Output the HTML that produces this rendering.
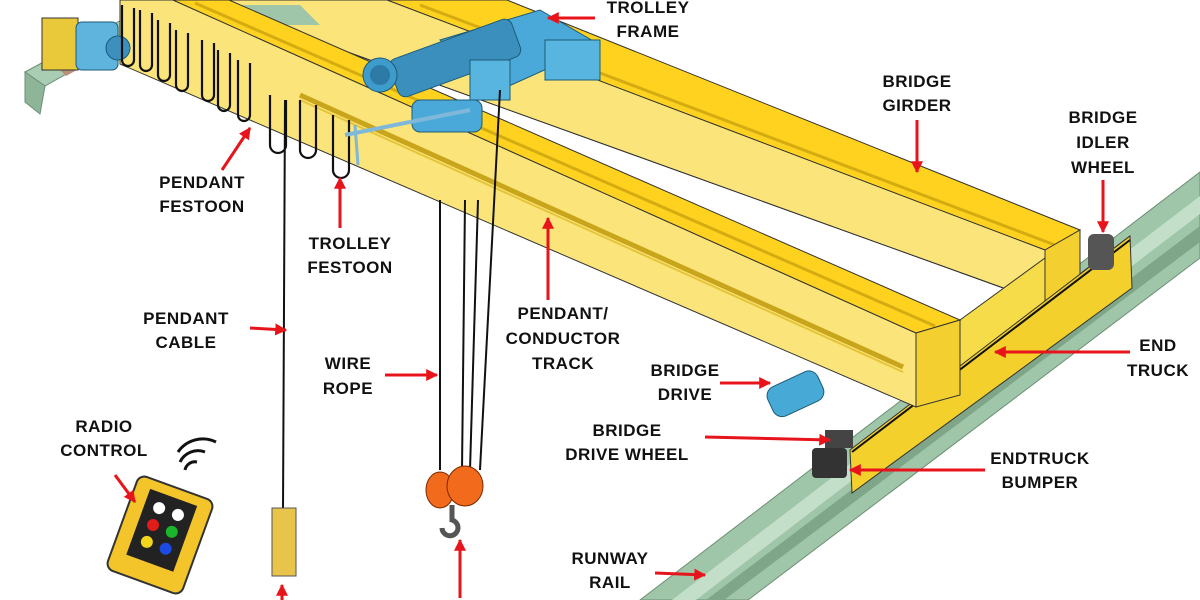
<!DOCTYPE html>
<html><head><meta charset="utf-8"><style>
body{margin:0;width:1200px;height:600px;overflow:hidden;background:#fff}
svg{display:block}
text{font-family:"Liberation Sans",Arial,sans-serif;font-weight:bold;font-size:17px;fill:#111;letter-spacing:0.5px;text-anchor:middle}
</style></head><body>
<svg width="1200" height="600" viewBox="0 0 1200 600" xmlns="http://www.w3.org/2000/svg">
<defs>
<marker id="a" viewBox="0 0 10 10" refX="9" refY="5" markerWidth="4" markerHeight="4" orient="auto"><path d="M0,0L10,5L0,10z" fill="#e8141b"/></marker>
</defs>
<!-- runway rail -->
<polygon points="640,600 1200,172 1200,258 748,600" fill="#9fc6a8" stroke="#6d8f74"/>
<polygon points="672,600 1200,196 1200,214 696,600" fill="#c4dfc9"/>
<polygon points="706,600 1200,226 1200,242 724,600" fill="#7fa688"/>
<!-- left rail -->
<polygon points="25,72 125,18 148,28 45,86" fill="#a9cdb2" stroke="#6d8f74"/>
<polygon points="25,72 45,86 40,114 25,102" fill="#8fb598" stroke="#6d8f74"/>
<polygon points="60,70 130,32 138,36 66,76" fill="#b98f7a"/>
<!-- back girder -->
<polygon points="387,0 507,0 1080,230 1045,250" fill="#ffd21f" stroke="#333"/>
<line x1="420" y1="5" x2="1055" y2="245" stroke="#d4ab10" stroke-width="3"/>
<polygon points="203,0 387,0 1045,250 1045,303" fill="#fbe57a" stroke="#333"/>
<polygon points="1045,250 1080,230 1080,285 1045,303" fill="#f3d030" stroke="#333"/>
<polygon points="205,1 229,1 960,320 960,273" fill="#fff"/>
<line x1="203" y1="0" x2="1045" y2="303" stroke="#333"/>
<polygon points="225,5 300,5 320,25 245,25" fill="#9fc6a8"/>
<!-- end truck -->
<polygon points="960,320 1045,258 1045,303 1085,270 1130,236 860,453 916,407 960,395" fill="#f7dc4a" stroke="#333"/>
<polygon points="850,450 1130,236 1132,288 852,493" fill="#f4d02c" stroke="#333"/>
<line x1="852" y1="452" x2="1130" y2="240" stroke="#111" stroke-width="2"/>
<rect x="1088" y="234" width="26" height="36" fill="#555" rx="6"/>
<!-- front girder -->
<polygon points="120,0 173,0 916,333 916,407 120,64" fill="#fbe57a" stroke="#333"/>
<polygon points="173,0 229,0 960,320 916,333" fill="#ffd21f" stroke="#333"/>
<line x1="195" y1="3" x2="935" y2="326" stroke="#d4ab10" stroke-width="3"/>
<polygon points="916,333 960,320 960,395 916,407" fill="#f3d030" stroke="#333"/>
<line x1="300" y1="95" x2="903" y2="367" stroke="#c9a51c" stroke-width="5"/>
<line x1="300" y1="100" x2="903" y2="372" stroke="#e6c43a" stroke-width="2"/>
<rect x="812" y="448" width="35" height="30" fill="#333" rx="4"/>
<rect x="825" y="430" width="28" height="18" fill="#444"/>
<!-- bridge drive -->
<rect x="768" y="378" width="55" height="32" rx="10" fill="#47a9d6" stroke="#1d5a77" transform="rotate(-25 795 394)"/>
<!-- left end truck -->
<rect x="42" y="18" width="36" height="52" fill="#e9c93a" stroke="#333"/>
<rect x="76" y="22" width="42" height="48" rx="6" fill="#5fb4de" stroke="#1d5a77"/>
<circle cx="118" cy="48" r="12" fill="#3d8fbd" stroke="#1d5a77"/>
<!-- festoons -->
<g fill="none" stroke="#111" stroke-width="2.2">
<path d="M122,5 v55 a6,6 0 0 0 12,0 v-52"/>
<path d="M140,10 v55 a6,6 0 0 0 12,0 v-52"/>
<path d="M158,20 v55 a6,6 0 0 0 12,0 v-52"/>
<path d="M176,30 v55 a6,6 0 0 0 12,0 v-52"/>
<path d="M202,40 v55 a6,6 0 0 0 12,0 v-52"/>
<path d="M218,50 v55 a6,6 0 0 0 12,0 v-52"/>
<path d="M238,60 v55 a6,6 0 0 0 12,0 v-52"/>
<path d="M270,95 v50 a8,8 0 0 0 16,0 v-45"/>
<path d="M300,100 v50 a8,8 0 0 0 16,0 v-45"/>
<path d="M333,115 v55 a8,8 0 0 0 16,0 v-50"/>
</g>
<line x1="285" y1="100" x2="283" y2="510" stroke="#111" stroke-width="2"/>
<rect x="272" y="508" width="24" height="68" fill="#e8c44a" stroke="#555"/>
<!-- trolley -->
<polygon points="440,40 540,10 600,45 500,90" fill="#4aa9d8" stroke="#1d5a77"/>
<rect x="390" y="38" width="130" height="40" rx="8" fill="#3b8fbd" stroke="#1d5a77" transform="rotate(-20 455 58)"/>
<circle cx="380" cy="75" r="17" fill="#3d9ccc" stroke="#1d5a77"/>
<circle cx="380" cy="75" r="10" fill="#2c7aa5"/>
<rect x="545" y="40" width="55" height="40" fill="#58b5e0" stroke="#1d5a77"/>
<rect x="470" y="60" width="40" height="40" fill="#58b5e0" stroke="#1d5a77"/>
<rect x="412" y="100" width="70" height="32" rx="8" fill="#4aa9d8" stroke="#1d5a77"/>
<line x1="345" y1="135" x2="470" y2="110" stroke="#7fb8d8" stroke-width="4"/>
<line x1="355" y1="125" x2="358" y2="165" stroke="#7fb8d8" stroke-width="3"/>
<!-- wire rope & hook -->
<g stroke="#111" stroke-width="2"><line x1="440" y1="200" x2="440" y2="470"/><line x1="465" y1="200" x2="462" y2="470"/><line x1="478" y1="200" x2="470" y2="470"/><line x1="500" y1="90" x2="480" y2="470"/></g>
<ellipse cx="440" cy="490" rx="14" ry="18" fill="#f26a1b" stroke="#7a2a00"/>
<ellipse cx="465" cy="486" rx="18" ry="20" fill="#f26a1b" stroke="#7a2a00"/>
<path d="M452,505 v15 a8,8 0 1 1 -10,8" fill="none" stroke="#555" stroke-width="5"/>
<!-- radio control -->
<g transform="rotate(20 160 535)">
<rect x="120" y="485" width="80" height="100" rx="8" fill="#f3c52b" stroke="#333" stroke-width="2"/>
<rect x="135" y="495" width="50" height="70" fill="#222"/>
<circle cx="150" cy="510" r="6" fill="#fff"/><circle cx="170" cy="510" r="6" fill="#fff"/>
<circle cx="150" cy="528" r="6" fill="#e21b1b"/><circle cx="170" cy="528" r="6" fill="#1bb52c"/>
<circle cx="150" cy="546" r="6" fill="#f3d51b"/><circle cx="170" cy="546" r="6" fill="#1b4be2"/>
</g>
<g fill="none" stroke="#111" stroke-width="3"><path d="M185,470 a10,10 0 0 1 12,-8"/><path d="M180,462 a20,20 0 0 1 25,-10"/><path d="M178,452 a30,30 0 0 1 38,-10"/></g>
<!-- arrows -->
<g stroke="#e8141b" stroke-width="3" marker-end="url(#a)">
<line x1="595" y1="18" x2="548" y2="18"/>
<line x1="917" y1="120" x2="917" y2="172"/>
<line x1="1103" y1="180" x2="1103" y2="232"/>
<line x1="222" y1="170" x2="250" y2="128"/>
<line x1="340" y1="228" x2="340" y2="178"/>
<line x1="548" y1="300" x2="548" y2="218"/>
<line x1="250" y1="328" x2="286" y2="330"/>
<line x1="385" y1="375" x2="437" y2="375"/>
<line x1="720" y1="383" x2="770" y2="383"/>
<line x1="1130" y1="352" x2="995" y2="352"/>
<line x1="705" y1="437" x2="830" y2="440"/>
<line x1="985" y1="470" x2="850" y2="470"/>
<line x1="115" y1="475" x2="135" y2="502"/>
<line x1="655" y1="573" x2="705" y2="575"/>
<line x1="460" y1="598" x2="460" y2="540"/>
<line x1="282" y1="600" x2="282" y2="585"/>
</g>
<!-- labels -->
<text x="648" y="13">TROLLEY</text><text x="648" y="37">FRAME</text>
<text x="917" y="87">BRIDGE</text><text x="917" y="111">GIRDER</text>
<text x="1103" y="123">BRIDGE</text><text x="1103" y="148">IDLER</text><text x="1103" y="173">WHEEL</text>
<text x="202" y="188">PENDANT</text><text x="202" y="212">FESTOON</text>
<text x="350" y="249">TROLLEY</text><text x="350" y="273">FESTOON</text>
<text x="563" y="319">PENDANT/</text><text x="563" y="344">CONDUCTOR</text><text x="563" y="369">TRACK</text>
<text x="186" y="324">PENDANT</text><text x="186" y="348">CABLE</text>
<text x="348" y="369">WIRE</text><text x="348" y="394">ROPE</text>
<text x="685" y="376">BRIDGE</text><text x="685" y="400">DRIVE</text>
<text x="1158" y="351">END</text><text x="1158" y="376">TRUCK</text>
<text x="627" y="436">BRIDGE</text><text x="627" y="460">DRIVE WHEEL</text>
<text x="1040" y="464">ENDTRUCK</text><text x="1040" y="488">BUMPER</text>
<text x="104" y="432">RADIO</text><text x="104" y="456">CONTROL</text>
<text x="610" y="564">RUNWAY</text><text x="610" y="588">RAIL</text>
<text x="460" y="612">HOOK</text>
</svg>
</body></html>
